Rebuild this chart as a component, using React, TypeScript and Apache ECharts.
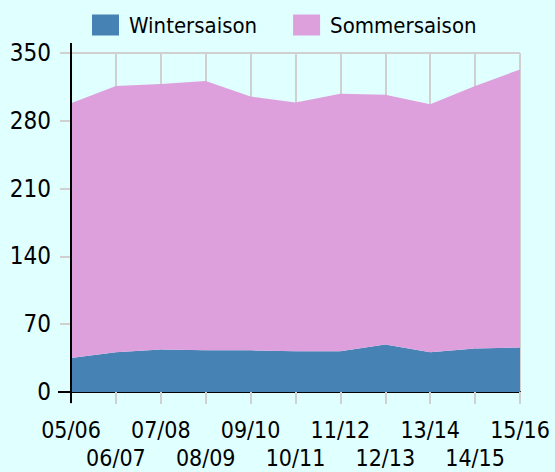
import React, { useEffect, useRef } from "react";
import * as echarts from "echarts";

const categories = ["05/06", "06/07", "07/08", "08/09", "09/10", "10/11", "11/12", "12/13", "13/14", "14/15", "15/16"];
const winter = [35, 41, 44, 43, 43, 42, 42, 49, 41, 45, 46];
const summer = [263, 275, 274, 278, 262, 257, 266, 258, 256, 271, 287];
const yTicks = { min: 0, max: 350, interval: 70 };

const FONT = "DejaVu Sans Condensed";

export default function App() {
  const ref = useRef<HTMLDivElement>(null);
  useEffect(() => {
    if (!ref.current) return;
    const chart = echarts.init(ref.current, undefined, { renderer: "svg" });
    chart.setOption({
      animation: false,
      backgroundColor: "#e0ffff",
      textStyle: { fontFamily: FONT, color: "#000" },
      legend: {
        top: 9,
        left: 87,
        itemWidth: 27,
        itemHeight: 21,
        itemGap: 36,
        textStyle: { fontFamily: FONT, fontSize: 22, color: "#000", padding: [0, 0, 0, 5] },
        data: [
          { name: "Wintersaison", icon: "rect" },
          { name: "Sommersaison", icon: "rect" },
        ],
      },
      grid: { left: 71, right: 35, top: 53, bottom: 76, containLabel: false },
      xAxis: {
        type: "category",
        data: categories,
        boundaryGap: false,
        axisLine: { lineStyle: { color: "#000", width: 2 } },
        axisTick: { show: true, length: 12, interval: 0, lineStyle: { color: "#d0d0d0", width: 2 } },
        splitLine: { show: true, interval: 0, lineStyle: { color: "#d0d0d0", width: 2 } },
        axisLabel: {
          interval: 0,
          margin: 24,
          fontFamily: FONT,
          fontSize: 23,
          lineHeight: 28,
          color: "#000",
          formatter: (v: string, i: number) => (i % 2 ? "\n" + v : v),
        },
      },
      yAxis: {
        type: "value",
        min: yTicks.min,
        max: yTicks.max,
        interval: yTicks.interval,
        axisLine: { show: true, lineStyle: { color: "#000", width: 2 } },
        axisTick: { show: true, length: 11, lineStyle: { color: "#d0d0d0", width: 2 } },
        splitLine: { show: true, lineStyle: { color: "#d0d0d0", width: 2 } },
        axisLabel: { margin: 20, fontFamily: FONT, fontSize: 24, color: "#000", padding: [5, 0, 0, 0] },
      },
      series: [
        {
          name: "Wintersaison",
          type: "line",
          stack: "total",
          data: winter,
          showSymbol: false,
          lineStyle: { width: 0 },
          itemStyle: { color: "#4682b4" },
          areaStyle: { color: "#4682b4", opacity: 1 },
        },
        {
          name: "Sommersaison",
          type: "line",
          stack: "total",
          data: summer,
          showSymbol: false,
          lineStyle: { width: 0 },
          itemStyle: { color: "#dda0dd" },
          areaStyle: { color: "#dda0dd", opacity: 1 },
        },
      ],
    });
    const origin = chart.convertToPixel({ gridIndex: 0 }, [categories[0], yTicks.min]) as number[];
    const topPt = chart.convertToPixel({ gridIndex: 0 }, [categories[0], yTicks.max]) as number[];
    if (origin && topPt) {
      const [x0, y0] = origin;
      const yt = topPt[1];
      chart.setOption({
        graphic: [
          { type: "line", z: 100, shape: { x1: x0, y1: yt - 10, x2: x0, y2: y0 + 11 }, style: { stroke: "#000", lineWidth: 2 } },
          { type: "line", z: 100, shape: { x1: x0 - 13, y1: y0, x2: x0, y2: y0 }, style: { stroke: "#000", lineWidth: 2 } },
        ],
      });
    }
    return () => chart.dispose();
  }, []);
  return <div ref={ref} style={{ width: 555, height: 472, position: "absolute", left: 0, top: 0 }} />;
}
